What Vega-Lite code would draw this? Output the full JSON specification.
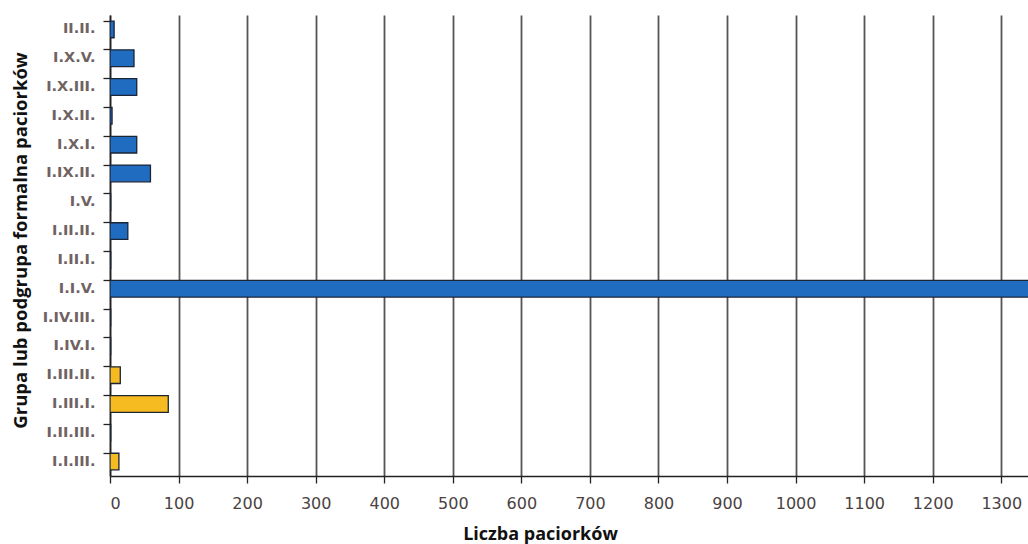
{
  "$schema": "https://vega.github.io/schema/vega-lite/v6.json",
  "autosize": "none",
  "width": 918,
  "height": 461,
  "padding": {"left": 110, "top": 15, "right": 0, "bottom": 68},
  "background": "white",
  "data": {
    "values": [
      {"grupa": "II.II.", "liczba": 6, "seria": "A"},
      {"grupa": "I.X.V.", "liczba": 35, "seria": "A"},
      {"grupa": "I.X.III.", "liczba": 39, "seria": "A"},
      {"grupa": "I.X.II.", "liczba": 3, "seria": "A"},
      {"grupa": "I.X.I.", "liczba": 39, "seria": "A"},
      {"grupa": "I.IX.II.", "liczba": 59, "seria": "A"},
      {"grupa": "I.V.", "liczba": 1, "seria": "A"},
      {"grupa": "I.II.II.", "liczba": 26, "seria": "A"},
      {"grupa": "I.II.I.", "liczba": 1, "seria": "A"},
      {"grupa": "I.I.V.", "liczba": 1450, "seria": "A"},
      {"grupa": "I.IV.III.", "liczba": 1, "seria": "B"},
      {"grupa": "I.IV.I.", "liczba": 1, "seria": "B"},
      {"grupa": "I.III.II.", "liczba": 15, "seria": "B"},
      {"grupa": "I.III.I.", "liczba": 85, "seria": "B"},
      {"grupa": "I.II.III.", "liczba": 1, "seria": "B"},
      {"grupa": "I.I.III.", "liczba": 13, "seria": "B"}
    ]
  },
  "mark": {"type": "bar", "clip": true, "stroke": "#1b2536", "strokeWidth": 1.3},
  "encoding": {
    "y": {
      "field": "grupa",
      "type": "nominal",
      "sort": null,
      "scale": {"paddingInner": 0.42, "paddingOuter": 0.21},
      "axis": {
        "title": "Grupa lub podgrupa formalna paciorków",
        "titleFont": "Open Sans",
        "titleFontSize": 18.5,
        "titleFontWeight": "bold",
        "titleColor": "#111111",
        "titleX": -90,
        "titleY": 225,
        "titleAngle": -90,
        "titleAlign": "center",
        "titleBaseline": "middle",
        "labelFont": "DejaVu Sans",
        "labelFontSize": 14.5,
        "labelFontWeight": "bold",
        "labelColor": "#716262",
        "labelPadding": 8,
        "bandPosition": 0,
        "tickSize": 7,
        "tickColor": "#222",
        "tickWidth": 1.3,
        "domainColor": "#222",
        "domainWidth": 1.5,
        "grid": false
      }
    },
    "x": {
      "field": "liczba",
      "type": "quantitative",
      "scale": {"domain": [0, 1339], "nice": false},
      "axis": {
        "title": "Liczba paciorków",
        "titleFont": "Open Sans",
        "titleFontSize": 18,
        "titleFontWeight": "bold",
        "titleColor": "#111111",
        "titleX": 430,
        "titleY": 58,
        "titleAlign": "center",
        "titleBaseline": "middle",
        "values": [0, 100, 200, 300, 400, 500, 600, 700, 800, 900, 1000, 1100, 1200, 1300],
        "format": "d",
        "labelFont": "DejaVu Sans",
        "labelFontSize": 16,
        "labelColor": "#4a4242",
        "labelPadding": 12,
        "tickSize": 7,
        "tickColor": "#222",
        "tickWidth": 1.3,
        "domainColor": "#222",
        "domainWidth": 1.5,
        "grid": true,
        "gridColor": "#555555",
        "gridWidth": 1.8,
        "gridOpacity": 1
      }
    },
    "color": {
      "field": "seria",
      "type": "nominal",
      "scale": {"domain": ["A", "B"], "range": ["#1f6cc0", "#f7bb22"]},
      "legend": null
    }
  },
  "config": {"view": {"stroke": null}}
}
